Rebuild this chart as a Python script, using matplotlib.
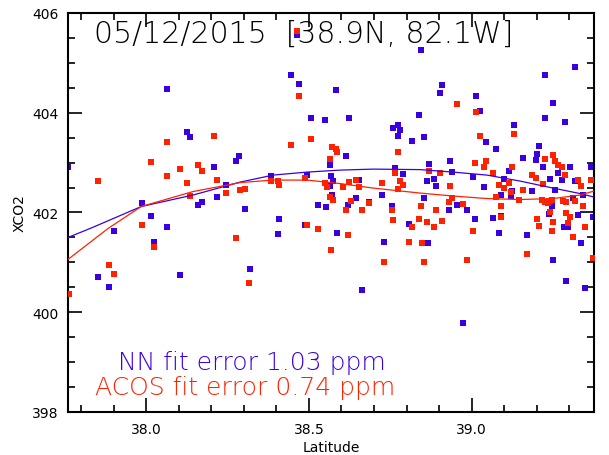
import numpy as np
import matplotlib
matplotlib.use('Agg')
import matplotlib.pyplot as plt
from matplotlib.ticker import MultipleLocator

# NN retrievals (blue)
nn_lat = [38.065, 38.127, 38.136, 38.207, 38.286, 38.277, 38.246, 38.219, 38.158, 38.173,
          38.305, 37.986, 38.016, 38.065, 37.761, 37.900, 38.025, 37.852, 37.887, 38.105,
          38.320, 38.465, 38.845, 38.446, 38.471, 38.584, 38.505, 38.551, 38.624, 38.839,
          38.759, 38.775, 38.781, 38.775, 38.855, 38.818, 38.615, 38.566, 38.870, 38.385,
          38.495, 38.569, 38.766, 38.790, 38.575, 38.655, 38.864, 38.566, 38.572, 38.726,
          38.646, 38.686, 38.855, 38.529, 38.554, 38.621, 38.756, 38.409, 38.809, 38.489,
          38.406, 38.587, 38.732, 38.867, 38.664, 39.318, 39.226, 38.910, 38.904, 39.014,
          39.027, 39.251, 39.226, 39.288, 39.131, 39.045, 39.076, 39.208, 39.202, 39.159,
          39.199, 38.935, 39.220, 39.303, 39.368, 39.266, 39.116, 38.941, 39.005, 38.885,
          39.278, 39.242, 39.318, 38.891, 39.100, 39.039, 39.257, 39.186, 39.125, 39.091,
          39.122, 39.343, 38.956, 38.987, 38.931, 39.248, 39.312, 39.328, 39.239, 39.011,
          39.067, 39.374, 39.285, 39.297, 39.085, 39.171, 39.091, 39.337, 39.251, 39.291,
          39.349, 38.974]
nn_xco2 = [404.47, 403.61, 403.51, 402.91, 403.13, 403.03, 402.55, 402.31, 402.15, 402.21,
           402.08, 402.20, 401.93, 401.71, 402.91, 401.63, 401.41, 400.71, 400.51, 400.75,
           400.87, 405.56, 405.25, 404.75, 404.57, 404.46, 403.89, 403.85, 403.89, 403.95,
           403.69, 403.75, 403.65, 403.53, 403.51, 403.43, 403.13, 402.95, 402.97, 402.73,
           402.75, 402.73, 402.89, 402.77, 402.64, 402.65, 402.63, 402.53, 402.35, 402.35,
           402.29, 402.21, 402.29, 402.15, 402.11, 402.15, 402.13, 401.87, 401.77, 401.75,
           401.57, 401.59, 401.41, 401.39, 400.45, 404.91, 404.75, 404.55, 404.39, 404.33,
           404.03, 404.19, 403.89, 403.81, 403.75, 403.41, 403.27, 403.33, 403.17, 403.09,
           403.05, 403.03, 402.91, 402.91, 402.91, 402.79, 402.83, 402.81, 402.71, 402.67,
           402.65, 402.67, 402.63, 402.53, 402.67, 402.51, 402.45, 402.43, 402.43, 402.35,
           402.33, 402.35, 402.15, 402.05, 402.05, 402.13, 402.29, 401.95, 401.97, 401.87,
           401.89, 401.91, 401.71, 401.71, 401.59, 401.55, 401.93, 401.39, 401.05, 400.63,
           400.49, 399.79]

# ACOS retrievals (red)
acos_lat = [38.207, 38.065, 38.016, 37.852, 38.065, 38.105, 38.158, 38.173, 38.127, 38.219,
            38.136, 38.246, 38.287, 38.305, 37.986, 38.025, 37.887, 37.900, 37.764, 38.277,
            38.317, 38.465, 38.471, 38.446, 38.505, 38.572, 38.584, 38.587, 38.566, 38.775,
            38.766, 38.385, 38.406, 38.409, 38.489, 38.551, 38.557, 38.606, 38.624, 38.646,
            38.655, 38.726, 38.781, 38.790, 38.775, 38.870, 38.566, 38.575, 38.630, 38.686,
            38.615, 38.664, 38.756, 38.845, 38.759, 38.839, 38.864, 38.818, 38.495, 38.529,
            38.621, 38.569, 38.809, 38.849, 38.732, 38.855, 38.956, 39.014, 39.027, 39.131,
            39.226, 39.251, 39.257, 39.266, 39.278, 39.011, 39.045, 39.039, 39.125, 39.067,
            38.904, 39.186, 39.199, 39.288, 39.328, 39.368, 39.220, 39.085, 38.935, 39.116,
            39.100, 39.159, 39.337, 39.122, 39.076, 39.146, 39.217, 39.226, 39.236, 39.242,
            39.248, 39.282, 39.291, 39.318, 38.941, 38.931, 38.974, 39.091, 38.891, 39.242,
            39.291, 39.343, 39.091, 39.202, 39.251, 39.303, 39.297, 38.910, 38.885, 39.208,
            39.349, 39.005, 39.248, 39.312, 38.987, 39.171, 39.374]
acos_xco2 = [403.54, 403.41, 403.01, 402.63, 402.73, 402.87, 402.95, 402.83, 402.59, 402.65,
             402.33, 402.39, 402.45, 402.47, 401.75, 401.31, 400.95, 400.77, 400.37, 401.49,
             400.59, 405.63, 404.33, 403.35, 403.47, 403.31, 403.27, 403.21, 403.07, 403.21,
             402.79, 402.63, 402.63, 402.55, 402.69, 402.59, 402.51, 402.51, 402.61, 402.65,
             402.51, 402.59, 402.63, 402.55, 402.47, 402.83, 402.31, 402.25, 402.23, 402.19,
             402.05, 402.05, 402.05, 402.13, 401.85, 401.87, 401.81, 401.71, 401.75, 401.67,
             401.55, 401.25, 401.41, 401.39, 401.01, 401.01, 404.17, 404.01, 403.53, 403.57,
             403.07, 403.15, 403.03, 402.95, 402.91, 402.99, 403.03, 402.91, 402.91, 402.79,
             402.79, 402.75, 402.69, 402.75, 402.65, 402.65, 402.57, 402.55, 402.53, 402.59,
             402.49, 402.45, 402.53, 402.41, 402.31, 402.25, 402.25, 402.21, 402.19, 402.23,
             402.25, 402.23, 402.21, 402.23, 402.29, 402.21, 402.17, 402.13, 402.05, 402.01,
             401.99, 402.13, 401.91, 401.87, 401.81, 401.91, 401.79, 401.83, 401.71, 401.73,
             401.71, 401.63, 401.63, 401.51, 401.05, 401.17, 401.09]

# fit curves
nn_fit_lat = [37.760, 37.828, 37.985, 38.144, 38.289, 38.390, 38.494, 38.596, 38.697,
              38.841, 38.943, 39.047, 39.149, 39.250, 39.333, 39.376]
nn_fit_xco2 = [401.50, 401.68, 402.12, 402.35, 402.61, 402.75, 402.81, 402.85, 402.87,
               402.86, 402.81, 402.75, 402.63, 402.49, 402.38, 402.31]
acos_fit_lat = [37.760, 37.883, 37.985, 38.144, 38.289, 38.390, 38.494, 38.596, 38.697,
                38.841, 38.943, 39.047, 39.149, 39.250, 39.333, 39.376]
acos_fit_xco2 = [401.06, 401.68, 402.12, 402.42, 402.60, 402.65, 402.65, 402.58, 402.49,
                 402.39, 402.33, 402.28, 402.26, 402.28, 402.35, 402.43]

blue = '#3a00e0'
red = '#ff2200'

fig = plt.figure(figsize=(6.09, 4.56), dpi=100)
ax = fig.add_axes([0.1117, 0.0943, 0.8637, 0.875])

ax.scatter(nn_lat, nn_xco2, marker='s', s=20, color=blue, linewidths=0, zorder=2)
ax.scatter(acos_lat, acos_xco2, marker='s', s=20, color=red, linewidths=0, zorder=3)
ax.plot(nn_fit_lat, nn_fit_xco2, color=blue, lw=0.9, zorder=4)
ax.plot(acos_fit_lat, acos_fit_xco2, color=red, lw=0.9, zorder=4)

ax.set_xlim(37.76, 39.376)
ax.set_ylim(398, 406)
ax.xaxis.set_major_locator(MultipleLocator(0.5))
ax.xaxis.set_minor_locator(MultipleLocator(0.1))
ax.yaxis.set_major_locator(MultipleLocator(2))
ax.yaxis.set_minor_locator(MultipleLocator(0.5))
ax.xaxis.set_major_formatter(plt.FormatStrFormatter('%.1f'))
ax.yaxis.set_major_formatter(plt.FormatStrFormatter('%d'))
ax.tick_params(which='both', direction='in', top=True, right=True, labelsize=10, width=1.2)
ax.tick_params(which='major', length=10, pad=7)
ax.tick_params(which='minor', length=5)
for s in ax.spines.values():
    s.set_linewidth(1.5)

ax.set_xlabel('Latitude', fontsize=10, labelpad=3)
ax.set_ylabel('XCO2', fontsize=10, labelpad=4)

ax.text(0.05, 0.985, '05/12/2015  [38.9N, 82.1W]', transform=ax.transAxes,
        fontsize=21.5, fontweight='light', ha='left', va='top', zorder=5)
ax.text(0.095, 0.095, 'NN fit error 1.03 ppm', transform=ax.transAxes, color=blue,
        fontsize=18, fontweight='light', ha='left', va='bottom', zorder=5)
ax.text(0.051, 0.033, 'ACOS fit error 0.74 ppm', transform=ax.transAxes, color=red,
        fontsize=18, fontweight='light', ha='left', va='bottom', zorder=5)

plt.savefig('out.png', dpi=100)
